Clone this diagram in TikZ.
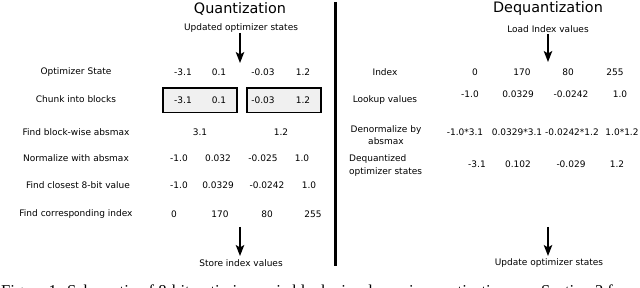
\documentclass[tikz,border=0pt]{standalone}
\usepackage{fontspec}
\setmainfont{DejaVu Sans}
\newfontfamily\capfont{Liberation Serif}
\usetikzlibrary{arrows.meta}
\begin{document}
\begin{tikzpicture}[x=1pt,y=-1pt,
  txt/.style={font=\fontsize{9}{11}\selectfont, anchor=base, inner sep=0pt},
  ttl/.style={font=\fontsize{14.4}{17}\selectfont, anchor=base, inner sep=0pt},
  num/.style={txt},
  flow/.style={line width=1.3pt, -{Stealth[length=11pt,width=8.5pt,inset=2.5pt]}},
  blockbox/.style={draw=black, line width=1.1pt, fill=black!6},
  sep/.style={line width=3pt}]
\useasboundingbox (0,0) rectangle (640,288);
\clip (0,0) rectangle (640,288);

% ---------- Quantization ----------
\node[ttl] (qt) at (240,13.5) {Quantization};
\node[txt] (qin) at (241,30.3) {Updated optimizer states};
\coordinate (qa1) at (240,33);
\coordinate (qa2) at (240,63);
\draw[flow] (qa1) -- (qa2);

\node[txt] (l1) at (76,74.3) {Optimizer State};
\node[num] (a1) at (183,75.3) {-3.1};
\node[num] (a2) at (219,75.3) {0.1};
\node[num] (a3) at (263,75.3) {-0.03};
\node[num] (a4) at (303,75.3) {1.2};

\node[txt] (l2) at (76,102.3) {Chunk into blocks};
\draw[blockbox] (163,88) rectangle (237,112.5);
\draw[blockbox] (247,88) rectangle (321,112.5);
\node[num] (b1) at (183,103.3) {-3.1};
\node[num] (b2) at (219,103.3) {0.1};
\node[num] (b3) at (263,103.3) {-0.03};
\node[num] (b4) at (303,103.3) {1.2};

\node[txt] (l3) at (76,135.3) {Find block-wise absmax};
\node[num] (c1) at (200,135.8) {3.1};
\node[num] (c2) at (281,135.8) {1.2};

\node[txt] (l4) at (76,161.3) {Normalize with absmax};
\node[num] (d1) at (179,161.8) {-1.0};
\node[num] (d2) at (218,161.8) {0.032};
\node[num] (d3) at (263,161.8) {-0.025};
\node[num] (d4) at (302,161.8) {1.0};

\node[txt] (l5) at (78,188.3) {Find closest 8-bit value};
\node[num] (e1) at (179,188.8) {-1.0};
\node[num] (e2) at (218,188.8) {0.0329};
\node[num] (e3) at (267,188.8) {-0.0242};
\node[num] (e4) at (309,188.8) {1.0};

\node[txt] (l6) at (76,216.3) {Find corresponding index};
\node[num] (f1) at (174,217.3) {0};
\node[num] (f2) at (220,217.3) {170};
\node[num] (f3) at (267,217.3) {80};
\node[num] (f4) at (313,217.3) {255};

\coordinate (qb1) at (240,227);
\coordinate (qb2) at (240,256);
\draw[flow] (qb1) -- (qb2);
\node[txt] (qout) at (241,266.3) {Store index values};

% ---------- separator ----------
\coordinate (s1) at (335,2);
\coordinate (s2) at (335,266);
\draw[sep] (s1) -- (s2);

% ---------- Dequantization ----------
\node[ttl] (dt) at (548,13) {Dequantization};
\node[txt] (din) at (548,32.3) {Load Index values};
\coordinate (da1) at (548,34);
\coordinate (da2) at (548,62);
\draw[flow] (da1) -- (da2);

\node[txt] (m1) at (385,75.3) {Index};
\node[num] (g1) at (475,75.3) {0};
\node[num] (g2) at (522,75.3) {170};
\node[num] (g3) at (568,75.3) {80};
\node[num] (g4) at (615,75.3) {255};

\node[txt] (m2) at (385,102.3) {Lookup values};
\node[num] (h1) at (470,97.3) {-1.0};
\node[num] (h2) at (518,97.3) {0.0329};
\node[num] (h3) at (571,97.3) {-0.0242};
\node[num] (h4) at (620,97.3) {1.0};

\node[txt] (m3a) at (386,132.3) {Denormalize by};
\node[txt] (m3b) at (386,144.3) {absmax};
\node[num] (i1) at (465,135.3) {-1.0*3.1};
\node[num] (i2) at (517,135.3) {0.0329*3.1};
\node[num] (i3) at (572,135.3) {-0.0242*1.2};
\node[num] (i4) at (622,135.3) {1.0*1.2};

\node[txt, anchor=base west] (m4a) at (349,161.3) {Dequantized};
\node[txt, anchor=base west] (m4b) at (349,174.3) {optimizer states};
\node[num] (j1) at (477,167.3) {-3.1};
\node[num] (j2) at (518,167.3) {0.102};
\node[num] (j3) at (571,167.3) {-0.029};
\node[num] (j4) at (617,167.3) {1.2};

\coordinate (db1) at (548,227);
\coordinate (db2) at (548,256);
\draw[flow] (db1) -- (db2);
\node[txt] (dout) at (549,265.3) {Update optimizer states};

% ---------- caption (cut off at the bottom edge) ----------
\node[font=\capfont\fontsize{16.6}{19}\selectfont, anchor=base west, inner sep=0pt] (cap) at (1,296.5) {Figure 1: Schematic of 8-bit optimizers via blockwise dynamic quantization, see Section 2 for};
\end{tikzpicture}
\end{document}
